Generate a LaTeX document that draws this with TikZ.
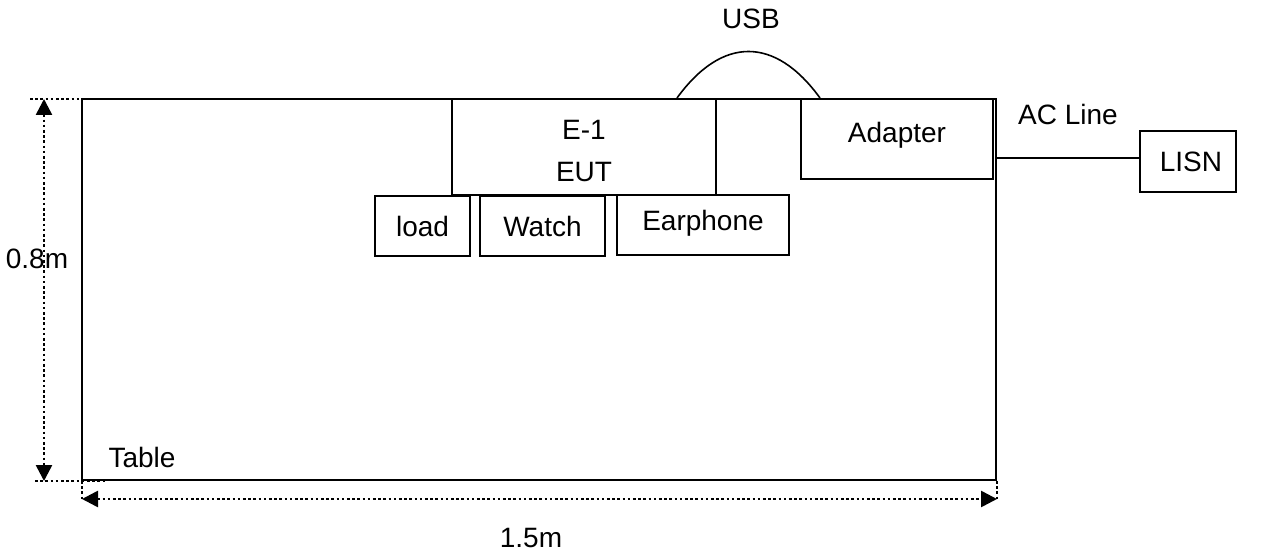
\documentclass[tikz,border=0pt]{standalone}
\usepackage{fontspec}
\setmainfont{Liberation Sans}
\usepackage{tikz}
\usetikzlibrary{arrows.meta}
\usetikzlibrary{positioning}
\usetikzlibrary{calc}
\tikzstyle{box}=[draw,rectangle,line width=1.6pt,inner sep=0pt,font=\fontsize{28}{42}\selectfont]
\begin{document}
\begin{tikzpicture}[x=1pt,y=-1pt,font=\fontsize{28}{42}\selectfont]
\tikzstyle{dim}=[line width=2.6pt,dash pattern=on 2.6pt off 2.6pt]
\tikzstyle{tip}=[{Triangle[length=16pt,width=16pt]}-{Triangle[length=16pt,width=16pt]}]
\useasboundingbox (0,0) rectangle (1269,556);

\node [box,minimum width=914pt,minimum height=381pt] (table) at (539,289.5) {};
\node [box,minimum width=264pt,minimum height=96pt] (eut) at (584,147) {};
\node [align=center] (eutlbl) at (584,151) {E-1\\EUT};
\node [box,minimum width=192pt,minimum height=80pt] (adapter) at (897,139) {};
\node (adapterlbl) at (897,135) {Adapter};
\node [box,minimum width=96pt,minimum height=61pt] (lisn) at (1188,161.5) {};
\node (lisnlbl) at (1191,162) {LISN};
\node [box,minimum width=95pt,minimum height=60pt] (load) at (422.5,226) {load};
\node [box,minimum width=125pt,minimum height=60pt] (watch) at (542.5,226) {Watch};
\node [box,minimum width=172pt,minimum height=60pt] (earphone) at (703,225) {};
\node (earphonelbl) at (703,223) {Earphone};

\node (tablelbl) at (142,457) {Table};
\node (usblbl) at (751,19) {USB};
\node (aclbl) at (1068,114) {AC Line};
\node (hlbl) at (37,259) {0.8m};
\node (wlbl) at (531,538) {1.5m};

% USB cable
\coordinate (u1) at (677,98);
\coordinate (u2) at (820,98);
\draw[line width=1.6pt] (u1) .. controls (722,36) and (775,36) .. (u2);

% AC line
\coordinate (ac) at (table.east |- 0,158);
\draw[line width=1.6pt] (ac) -- (ac -| lisn.west);

% dimensions
\draw[dim] (30,99) -- (100,99);
\draw[dim] (35,481) -- (105,481);
\draw[dim,tip] (44,99) -- (44,481);
\draw[dim] (82,481) -- (82,500);
\draw[dim] (997,481) -- (997,500);
\draw[dim,tip] (82,499) -- (997,499);
\end{tikzpicture}
\end{document}
